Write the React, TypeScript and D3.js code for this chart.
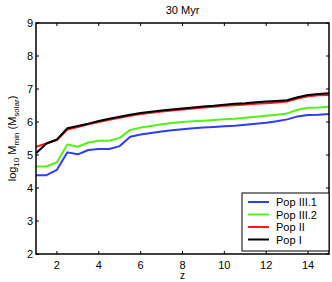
import { useEffect, useRef } from 'react';
import * as d3 from 'd3';

// data
const redshift = [1, 1.5, 2, 2.5, 3, 3.5, 4, 4.5, 5, 5.5, 6, 6.5, 7, 7.5, 8, 8.5, 9, 9.5, 10, 10.5, 11, 11.5, 12, 12.5, 13, 13.5, 14, 14.5, 15];
const popIII1 = [4.39, 4.39, 4.55, 5.08, 5.02, 5.15, 5.18, 5.18, 5.27, 5.55, 5.62, 5.67, 5.71, 5.75, 5.78, 5.81, 5.83, 5.85, 5.87, 5.89, 5.92, 5.95, 5.98, 6.02, 6.08, 6.17, 6.21, 6.22, 6.24];
const popIII2 = [4.65, 4.65, 4.78, 5.32, 5.25, 5.38, 5.43, 5.43, 5.52, 5.76, 5.83, 5.88, 5.93, 5.97, 6.0, 6.02, 6.04, 6.06, 6.08, 6.1, 6.13, 6.16, 6.19, 6.22, 6.26, 6.37, 6.43, 6.44, 6.46];
const popII = [5.25, 5.35, 5.45, 5.77, 5.85, 5.93, 6.0, 6.07, 6.13, 6.19, 6.24, 6.28, 6.32, 6.35, 6.38, 6.41, 6.44, 6.46, 6.49, 6.51, 6.53, 6.55, 6.57, 6.59, 6.62, 6.71, 6.78, 6.81, 6.82];
const popI = [5.05, 5.35, 5.47, 5.81, 5.88, 5.95, 6.03, 6.1, 6.16, 6.22, 6.27, 6.31, 6.35, 6.38, 6.41, 6.44, 6.47, 6.49, 6.52, 6.55, 6.57, 6.6, 6.62, 6.64, 6.66, 6.75, 6.82, 6.85, 6.87];
const seriesNames = ['Pop III.1', 'Pop III.2', 'Pop II', 'Pop I'];
const seriesColors = ['#2f3bff', '#55f01a', '#ff1a1a', '#000000'];
const xTicks = [2, 4, 6, 8, 10, 12, 14];
const yTicks = [2, 3, 4, 5, 6, 7, 8, 9];

const W = 332;
const H = 282;
const margin = { left: 36, right: 3, top: 23, bottom: 28 };
const font = 'Liberation Sans, Arial, sans-serif';

const Chart = () => {
  const ref = useRef<SVGSVGElement | null>(null);

  useEffect(() => {
    document.body.style.margin = '0';
    const svg = d3.select(ref.current);
    svg.selectAll('*').remove();

    const x = d3.scaleLinear().domain([1, 15]).range([margin.left, W - margin.right]);
    const y = d3.scaleLinear().domain([2, 9]).range([H - margin.bottom, margin.top]);
    const x0 = margin.left, x1 = W - margin.right, y0 = H - margin.bottom, y1 = margin.top;

    svg.append('rect').attr('width', W).attr('height', H).attr('fill', '#fff');

    const line = d3
      .line<number>()
      .x((d, i) => x(redshift[i]))
      .y(d => y(d));

    const all = [popIII1, popIII2, popII, popI];
    all.forEach((s, k) => {
      svg
        .append('path')
        .attr('d', line(s))
        .attr('fill', 'none')
        .attr('stroke', seriesColors[k])
        .attr('stroke-width', 2)
        .attr('stroke-linejoin', 'round');
    });

    // box
    svg
      .append('rect')
      .attr('x', x0)
      .attr('y', y1)
      .attr('width', x1 - x0)
      .attr('height', y0 - y1)
      .attr('fill', 'none')
      .attr('stroke', '#000')
      .attr('stroke-width', 1.5);

    const tl = 3;
    xTicks.forEach(t => {
      svg.append('line').attr('x1', x(t)).attr('x2', x(t)).attr('y1', y0).attr('y2', y0 - tl).attr('stroke', '#000');
      svg.append('line').attr('x1', x(t)).attr('x2', x(t)).attr('y1', y1).attr('y2', y1 + tl).attr('stroke', '#000');
      svg
        .append('text')
        .attr('x', x(t))
        .attr('y', y0 + 15)
        .attr('text-anchor', 'middle')
        .attr('font-family', font)
        .attr('font-size', 11)
        .text(t);
    });
    yTicks.forEach(t => {
      svg.append('line').attr('x1', x0).attr('x2', x0 + tl).attr('y1', y(t)).attr('y2', y(t)).attr('stroke', '#000');
      svg.append('line').attr('x1', x1).attr('x2', x1 - tl).attr('y1', y(t)).attr('y2', y(t)).attr('stroke', '#000');
      svg
        .append('text')
        .attr('x', x0 - 3)
        .attr('y', y(t) + 4)
        .attr('text-anchor', 'end')
        .attr('font-family', font)
        .attr('font-size', 11)
        .text(t);
    });

    svg
      .append('text')
      .attr('x', (x0 + x1) / 2)
      .attr('y', 14)
      .attr('text-anchor', 'middle')
      .attr('font-family', font)
      .attr('font-size', 11)
      .text('30 Myr');

    svg
      .append('text')
      .attr('x', (x0 + x1) / 2)
      .attr('y', 279)
      .attr('text-anchor', 'middle')
      .attr('font-family', font)
      .attr('font-size', 10)
      .text('z');

    const yl = svg
      .append('text')
      .attr('transform', `translate(16, ${(y0 + y1) / 2}) rotate(-90)`)
      .attr('text-anchor', 'middle')
      .attr('font-family', font)
      .attr('font-size', 11);
    yl.append('tspan').text('log');
    yl.append('tspan').attr('font-size', 8).attr('dy', 3).text('10');
    yl.append('tspan').attr('dy', -3).text(' M');
    yl.append('tspan').attr('font-size', 8).attr('dy', 3).text('min');
    yl.append('tspan').attr('dy', -3).text(' (M');
    yl.append('tspan').attr('font-size', 8).attr('dy', 3).text('solar');
    yl.append('tspan').attr('dy', -3).text(')');

    // legend
    const lg = svg.append('g');
    lg.append('rect')
      .attr('x', 242)
      .attr('y', 193)
      .attr('width', x1 - 242)
      .attr('height', 58)
      .attr('fill', '#fff')
      .attr('stroke', '#000')
      .attr('stroke-width', 1);
    seriesNames.forEach((n, k) => {
      const yy = 202 + k * 12.5;
      lg.append('line')
        .attr('x1', 248)
        .attr('x2', 269)
        .attr('y1', yy)
        .attr('y2', yy)
        .attr('stroke', seriesColors[k])
        .attr('stroke-width', 2);
      lg.append('text')
        .attr('x', 276)
        .attr('y', yy + 4)
        .attr('font-family', font)
        .attr('font-size', 11)
        .text(n);
    });
  }, []);

  return <svg ref={ref} width={W} height={H} style={{ display: 'block' }}></svg>;
};

export default function App() {
  return <Chart />;
}
